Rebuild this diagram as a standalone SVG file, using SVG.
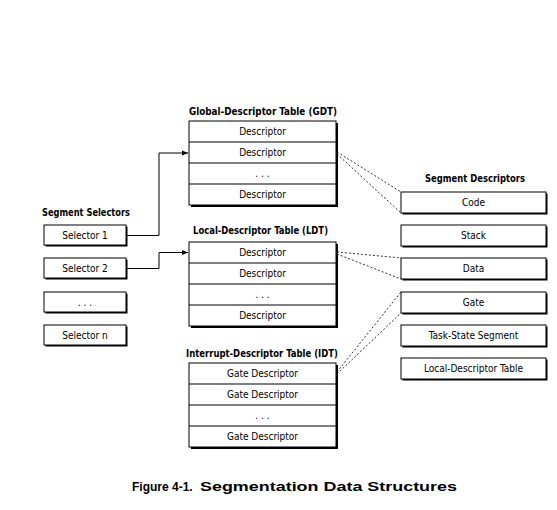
<svg xmlns="http://www.w3.org/2000/svg" width="557" height="510" viewBox="0 0 557 510">
<style>
.sh{fill:#000}
.bx{fill:#fff;stroke:#000;stroke-width:1}
.ln{stroke:#000;stroke-width:1}
.t{font-family:"DejaVu Sans Condensed","DejaVu Sans",sans-serif;font-size:10px;text-anchor:middle;fill:#000}
.h{font-family:"DejaVu Sans Condensed","DejaVu Sans",sans-serif;font-size:10.5px;font-weight:bold;fill:#000}
.c{stroke:#000;stroke-width:1;fill:none}
.d{stroke:#000;stroke-width:0.8;fill:none;stroke-dasharray:2,2}
.cap{font-family:"Liberation Sans",Arial,sans-serif;font-size:12.5px;font-weight:bold;fill:#000}
</style>
<defs>
<marker id="ah" viewBox="0 0 6 6" refX="6" refY="3" markerWidth="6" markerHeight="6" markerUnits="userSpaceOnUse" orient="auto">
<path d="M0,0.5 L6,3 L0,5.5 Z" fill="#000"/>
</marker>
</defs>
<rect width="557" height="510" fill="#fff"/>

<g id="gdt">
<text class="h" x="189" y="115" textLength="148" lengthAdjust="spacingAndGlyphs">Global-Descriptor Table (GDT)</text>
<rect class="sh" x="191" y="123" width="147" height="84"/>
<rect class="bx" x="189" y="121" width="147" height="84"/>
<line class="ln" x1="189" y1="142" x2="336" y2="142"/>
<line class="ln" x1="189" y1="163" x2="336" y2="163"/>
<line class="ln" x1="189" y1="184" x2="336" y2="184"/>
<text class="t" x="262.5" y="135">Descriptor</text>
<text class="t" x="262.5" y="156">Descriptor</text>
<text class="t" x="262.5" y="177">. . .</text>
<text class="t" x="262.5" y="198">Descriptor</text>
</g>

<g id="ldt">
<text class="h" x="193" y="234" textLength="135" lengthAdjust="spacingAndGlyphs">Local-Descriptor Table (LDT)</text>
<rect class="sh" x="191" y="244" width="147" height="84"/>
<rect class="bx" x="189" y="242" width="147" height="84"/>
<line class="ln" x1="189" y1="263" x2="336" y2="263"/>
<line class="ln" x1="189" y1="284" x2="336" y2="284"/>
<line class="ln" x1="189" y1="305" x2="336" y2="305"/>
<text class="t" x="262.5" y="256">Descriptor</text>
<text class="t" x="262.5" y="277">Descriptor</text>
<text class="t" x="262.5" y="298">. . .</text>
<text class="t" x="262.5" y="319">Descriptor</text>
</g>

<g id="idt">
<text class="h" x="186" y="357" textLength="152" lengthAdjust="spacingAndGlyphs">Interrupt-Descriptor Table (IDT)</text>
<rect class="sh" x="191" y="365" width="147" height="84"/>
<rect class="bx" x="189" y="363" width="147" height="84"/>
<line class="ln" x1="189" y1="384" x2="336" y2="384"/>
<line class="ln" x1="189" y1="405" x2="336" y2="405"/>
<line class="ln" x1="189" y1="426" x2="336" y2="426"/>
<text class="t" x="262.5" y="377">Gate Descriptor</text>
<text class="t" x="262.5" y="398">Gate Descriptor</text>
<text class="t" x="262.5" y="419">. . .</text>
<text class="t" x="262.5" y="440">Gate Descriptor</text>
</g>

<g id="selectors">
<text class="h" x="42" y="216" textLength="88" lengthAdjust="spacingAndGlyphs">Segment Selectors</text>
<g id="sel1"><rect class="sh" x="45.5" y="226.5" width="82" height="20"/><rect class="bx" x="44" y="225" width="82" height="20"/><text class="t" x="85" y="238.5">Selector 1</text></g>
<g id="sel2"><rect class="sh" x="45.5" y="259.5" width="82" height="20"/><rect class="bx" x="44" y="258" width="82" height="20"/><text class="t" x="85" y="271.5">Selector 2</text></g>
<g id="seldots"><rect class="sh" x="45.5" y="293.5" width="82" height="20"/><rect class="bx" x="44" y="292" width="82" height="20"/><text class="t" x="85" y="305.5">. . .</text></g>
<g id="seln"><rect class="sh" x="45.5" y="326.5" width="82" height="20"/><rect class="bx" x="44" y="325" width="82" height="20"/><text class="t" x="85" y="338.5">Selector n</text></g>
</g>

<g id="descriptors">
<text class="h" x="425" y="182" textLength="100" lengthAdjust="spacingAndGlyphs">Segment Descriptors</text>
<g id="code"><rect class="sh" x="402.5" y="193.5" width="145" height="21"/><rect class="bx" x="401" y="192" width="145" height="21"/><text class="t" x="473.5" y="206">Code</text></g>
<g id="stack"><rect class="sh" x="402.5" y="226.5" width="145" height="21"/><rect class="bx" x="401" y="225" width="145" height="21"/><text class="t" x="473.5" y="239">Stack</text></g>
<g id="data"><rect class="sh" x="402.5" y="259.5" width="145" height="21"/><rect class="bx" x="401" y="258" width="145" height="21"/><text class="t" x="473.5" y="272">Data</text></g>
<g id="gate"><rect class="sh" x="402.5" y="293.5" width="145" height="21"/><rect class="bx" x="401" y="292" width="145" height="21"/><text class="t" x="473.5" y="306">Gate</text></g>
<g id="tss"><rect class="sh" x="402.5" y="326.5" width="145" height="21"/><rect class="bx" x="401" y="325" width="145" height="21"/><text class="t" x="473.5" y="339">Task-State Segment</text></g>
<g id="ldtdesc"><rect class="sh" x="402.5" y="359.5" width="145" height="21"/><rect class="bx" x="401" y="358" width="145" height="21"/><text class="t" x="473.5" y="372">Local-Descriptor Table</text></g>
</g>

<g id="connectors">
<path class="c" d="M127,235.5 H159 V153 H188" marker-end="url(#ah)"/>
<path class="c" d="M127,268.5 H159 V252.5 H188" marker-end="url(#ah)"/>
<path class="d" d="M337,152 L401,192"/>
<path class="d" d="M337,154 L401,213"/>
<path class="d" d="M337,252 L401,258"/>
<path class="d" d="M337,254 L401,279"/>
<path class="d" d="M337,372 L401,292"/>
<path class="d" d="M337,374 L401,313"/>
</g>

<g id="caption">
<text class="cap" x="132" y="491" style="font-size:12px">Figure 4-1.</text>
<text class="cap" x="200" y="491" textLength="257" lengthAdjust="spacingAndGlyphs">Segmentation Data Structures</text>
</g>
</svg>
